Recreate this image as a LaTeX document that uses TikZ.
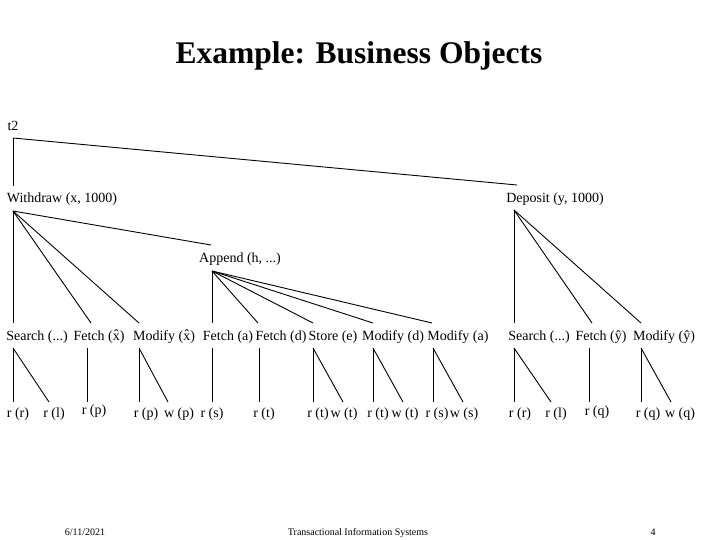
\documentclass[tikz,border=0pt]{standalone}
\usepackage{fontspec}
\setmainfont{Liberation Serif}

\begin{document}
\begin{tikzpicture}[x=1pt,y=-1pt]
    \tikzstyle{lbl} = [inner sep=0pt, anchor=base, font=\fontsize{14}{16}\selectfont];
    \tikzstyle{foot} = [inner sep=0pt, anchor=base, font=\fontsize{10}{12}\selectfont];
    \tikzstyle{line} = [draw, line width=0.9pt];
    \useasboundingbox (0,0) rectangle (720,540);

    \node[inner sep=0pt, anchor=base, font=\bfseries\fontsize{31.5}{36}\selectfont] (title) at (359,64) {Example: Business Objects};

    % transaction and its two steps
    \node[lbl] (t2) at (13,131) {t2};
    \node[lbl] (wd) at (62,203) {Withdraw (x, 1000)};
    \node[lbl] (dp) at (555,203) {Deposit (y, 1000)};
    \node[lbl] (ap) at (240,262) {Append (h, ...)};

    % second level
    \node[lbl] (s1) at (37,340) {Search (...)};
    \node[lbl] (fx) at (99,340) {Fetch (\^{x})};
    \node[lbl] (mx) at (164,340) {Modify (\^{x})};
    \node[lbl] (fa) at (228,340) {Fetch (a)};
    \node[lbl] (fd) at (281,340) {Fetch (d)};
    \node[lbl] (se) at (333,340) {Store (e)};
    \node[lbl] (md) at (393,340) {Modify (d)};
    \node[lbl] (ma) at (458,340) {Modify (a)};
    \node[lbl] (s2) at (539,340) {Search (...)};
    \node[lbl] (fy) at (601,340) {Fetch (\^{y})};
    \node[lbl] (my) at (664,340) {Modify (\^{y})};

    % page operations
    \node[lbl] (rr1) at (18,417) {r (r)};
    \node[lbl] (rl1) at (54,417) {r (l)};
    \node[lbl] (rp1) at (94,414) {r (p)};
    \node[lbl] (rp2) at (146,417) {r (p)};
    \node[lbl] (wp2) at (179,417) {w (p)};
    \node[lbl] (rs1) at (212,417) {r (s)};
    \node[lbl] (rt1) at (264,417) {r (t)};
    \node[lbl] (rt2) at (318,417) {r (t)};
    \node[lbl] (wt2) at (344,417) {w (t)};
    \node[lbl] (rt3) at (378,417) {r (t)};
    \node[lbl] (wt3) at (405,417) {w (t)};
    \node[lbl] (rs2) at (437,417) {r (s)};
    \node[lbl] (ws2) at (464,417) {w (s)};
    \node[lbl] (rr2) at (520,417) {r (r)};
    \node[lbl] (rl2) at (556,417) {r (l)};
    \node[lbl] (rq1) at (597,415) {r (q)};
    \node[lbl] (rq2) at (648,417) {r (q)};
    \node[lbl] (wq2) at (680,417) {w (q)};

    % footer
    \node[foot] (date) at (85,535) {6/11/2021};
    \node[foot] (course) at (358,535) {Transactional Information Systems};
    \node[foot] (page) at (653,535) {4};

    % joints
    \coordinate (t2b) at (13,138);
    \coordinate (wdt) at (13,186);  \coordinate (wdb) at (13,211);
    \coordinate (dpt) at (517,185); \coordinate (dpb) at (514,210);
    \coordinate (apt) at (211,245); \coordinate (apb) at (212,271);
    \coordinate (s1t) at (13,323);  \coordinate (s1b) at (13,348);
    \coordinate (fxt) at (91,323);  \coordinate (fxb) at (87,348);
    \coordinate (mxt) at (139,323); \coordinate (mxb) at (139,348);
    \coordinate (fat) at (212,323); \coordinate (fab) at (212,348);
    \coordinate (fdt) at (258,323); \coordinate (fdb) at (259,348);
    \coordinate (sto) at (313,323); \coordinate (seb) at (313,348);
    \coordinate (mdt) at (373,323); \coordinate (mdb) at (373,348);
    \coordinate (mat) at (432,323); \coordinate (mab) at (433,348);
    \coordinate (s2t) at (514,323); \coordinate (s2b) at (514,348);
    \coordinate (fyt) at (592,323); \coordinate (fyb) at (589,348);
    \coordinate (myt) at (641,323); \coordinate (myb) at (641,348);
    \coordinate (rr1t) at (13,402);  \coordinate (rl1t) at (49,402);
    \coordinate (rp1t) at (87,402);
    \coordinate (rp2t) at (139,402); \coordinate (wp2t) at (168,402);
    \coordinate (rs1t) at (212,402);
    \coordinate (rt1t) at (259,402);
    \coordinate (rt2t) at (313,402); \coordinate (wt2t) at (343,402);
    \coordinate (rt3t) at (373,402); \coordinate (wt3t) at (403,402);
    \coordinate (rs2t) at (433,402); \coordinate (ws2t) at (463,402);
    \coordinate (rr2t) at (514,402); \coordinate (rl2t) at (551,402);
    \coordinate (rq1t) at (589,402);
    \coordinate (rq2t) at (641,402); \coordinate (wq2t) at (671,402);

    \tikzstyle{every path}=[line]
    \path (t2b) -- (wdt);
    \path (t2b) -- (dpt);
    \path (wdb) -- (s1t);
    \path (wdb) -- (fxt);
    \path (wdb) -- (mxt);
    \path (wdb) -- (apt);
    \path (apb) -- (fat);
    \path (apb) -- (fdt);
    \path (apb) -- (sto);
    \path (apb) -- (mdt);
    \path (apb) -- (mat);
    \path (dpb) -- (s2t);
    \path (dpb) -- (fyt);
    \path (dpb) -- (myt);
    \path (s1b) -- (rr1t);
    \path (s1b) -- (rl1t);
    \path (fxb) -- (rp1t);
    \path (mxb) -- (rp2t);
    \path (mxb) -- (wp2t);
    \path (fab) -- (rs1t);
    \path (fdb) -- (rt1t);
    \path (seb) -- (rt2t);
    \path (seb) -- (wt2t);
    \path (mdb) -- (rt3t);
    \path (mdb) -- (wt3t);
    \path (mab) -- (rs2t);
    \path (mab) -- (ws2t);
    \path (s2b) -- (rr2t);
    \path (s2b) -- (rl2t);
    \path (fyb) -- (rq1t);
    \path (myb) -- (rq2t);
    \path (myb) -- (wq2t);
\end{tikzpicture}
\end{document}
